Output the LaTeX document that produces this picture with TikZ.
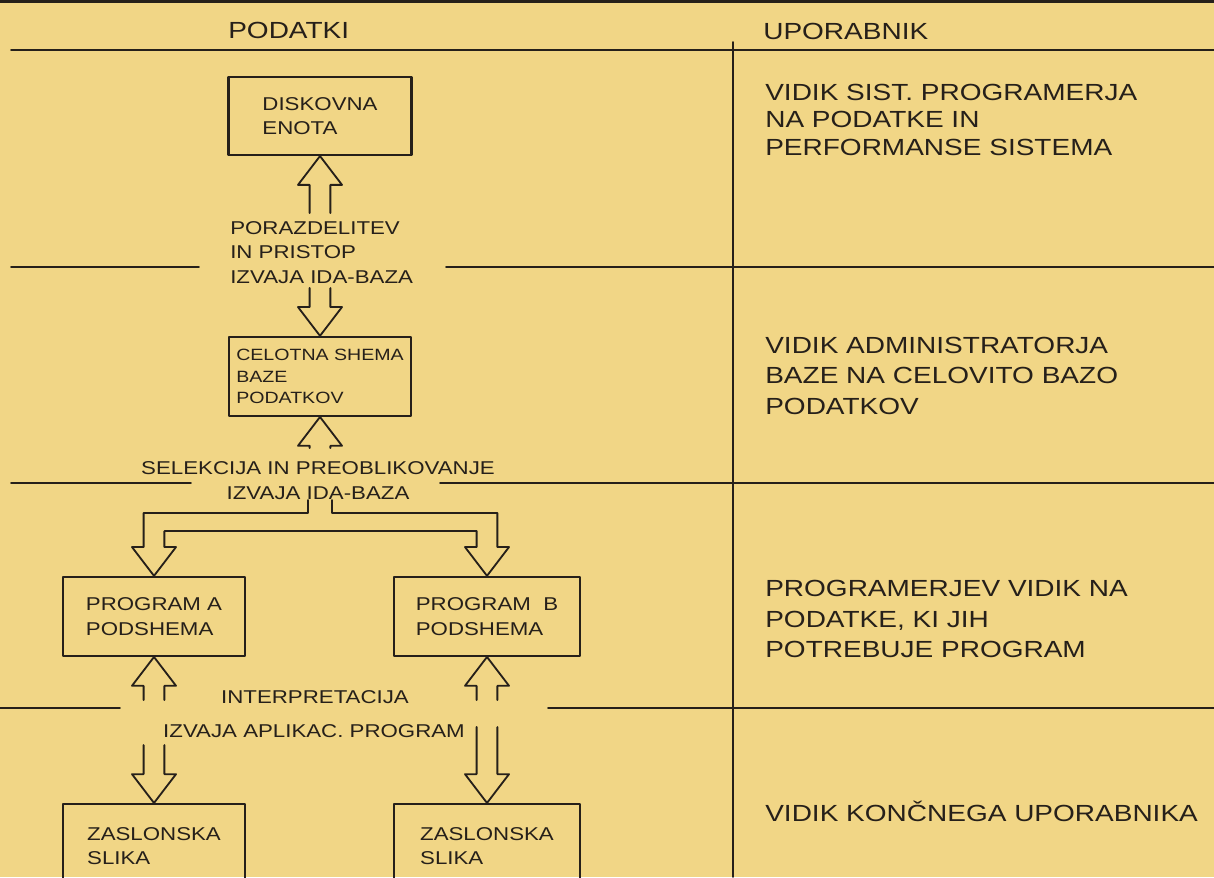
\documentclass[tikz,border=0pt]{standalone}
\usepackage{fontspec}
\setmainfont{Liberation Sans}
\newfontfamily\widesans[FakeStretch=1.2]{Liberation Sans}
\usetikzlibrary{calc}

\definecolor{paper}{RGB}{241,214,134}
\definecolor{ink}{RGB}{38,32,26}

\tikzset{
  sepline/.style={draw=ink,line width=1.2pt},
  arrowline/.style={draw=ink,line width=1.3pt},
  boxnode/.style={draw=ink,line width=1.5pt,align=left,minimum height=1.975cm},
  bigtext/.style={font=\widesans\fontsize{16.6}{21.7}\selectfont,text=ink,align=left,inner sep=0pt},
  midtext/.style={font=\widesans\fontsize{13.2}{17.6}\selectfont,text=ink,align=left,inner sep=0pt},
  smalltext/.style={font=\widesans\fontsize{11.6}{15}\selectfont,text=ink,align=left,inner sep=0pt}
}

% votla puscica: #1 konica, #2 rep
\newcommand{\hollowarrow}[2]{%
  \draw[arrowline] ($(#2)+(-0.26,0)$) -- ($(#1)!0.72cm!(#2)+(-0.26,0)$)
    -- ($(#1)!0.72cm!(#2)+(-0.55,0)$) -- (#1) -- ($(#1)!0.72cm!(#2)+(0.55,0)$)
    -- ($(#1)!0.72cm!(#2)+(0.26,0)$) -- ($(#2)+(0.26,0)$);}

\begin{document}
\begin{tikzpicture}[line cap=round,line join=round]
  \fill[paper] (0,0) rectangle (30.35,-21.925);
  \useasboundingbox (0,0) rectangle (30.35,-21.925);
  \clip (0,0) rectangle (30.35,-21.925);
  % locnice
  \draw[draw=ink,line width=2pt] (0,-0.04) -- (30.35,-0.04);
  \draw[sepline] (0.275,-1.25) -- (30.35,-1.25);
  \draw[sepline] (18.325,-1.05) -- (18.325,-21.925);
  \draw[sepline] (0.275,-6.675) -- (4.975,-6.675);
  \draw[sepline] (11.15,-6.675) -- (30.35,-6.675);
  \draw[sepline] (0.275,-12.075) -- (4.775,-12.075);
  \draw[sepline] (11.0,-12.075) -- (30.35,-12.075);
  \draw[sepline] (0,-17.7) -- (3.0,-17.7);
  \draw[sepline] (13.7,-17.7) -- (30.35,-17.7);
  % naslova
  \node[bigtext,anchor=west] (podatki) at (5.7,-0.75) {PODATKI};
  \node[bigtext,anchor=west] (uporabnik) at (19.075,-0.775) {UPORABNIK};
  % levo: podatki
  \node[boxnode,midtext,minimum width=4.575cm,minimum height=1.95cm] (disk) at (8.0,-2.9) {DISKOVNA\\ENOTA};
  \node[midtext,anchor=west] (porazd) at (5.75,-6.31) {PORAZDELITEV\\IN PRISTOP\\IZVAJA IDA-BAZA};
  \node[boxnode,smalltext,minimum width=4.55cm] (shema) at (8.0,-9.41) {CELOTNA SHEMA\\BAZE\\PODATKOV};
  \node[midtext] (selekcija) at (7.95,-11.7) {SELEKCIJA IN PREOBLIKOVANJE};
  \node[midtext] (izvaja) at (7.95,-12.325) {IZVAJA IDA-BAZA};
  \node[boxnode,midtext,minimum width=4.55cm] (progA) at (3.85,-15.41) {PROGRAM A\\PODSHEMA};
  \node[boxnode,midtext,minimum width=4.65cm] (progB) at (12.175,-15.41) {PROGRAM\ \ B\\PODSHEMA};
  \node[midtext] (interp) at (7.875,-17.425) {INTERPRETACIJA};
  \node[midtext] (aplikac) at (7.85,-18.275) {IZVAJA APLIKAC. PROGRAM};
  \node[boxnode,midtext,minimum width=4.55cm,minimum height=2.1cm] (zasA) at (3.85,-21.15) {ZASLONSKA\\SLIKA};
  \node[boxnode,midtext,minimum width=4.65cm,minimum height=2.1cm] (zasB) at (12.175,-21.15) {ZASLONSKA\\SLIKA};
  % puscice
  \coordinate (t1) at (8.0,-5.325);
  \coordinate (t2) at (8.0,-7.2);
  \coordinate (t3) at (8.0,-11.2);
  \coordinate (fork) at (8.0,-12.5);
  \coordinate (t5) at (3.85,-17.5);
  \coordinate (t6) at (12.175,-17.5);
  \coordinate (t7) at (3.85,-18.625);
  \coordinate (t8) at (12.175,-18.175);
  \hollowarrow{disk.south}{t1}
  \hollowarrow{shema.north}{t2}
  \hollowarrow{shema.south}{t3}
  \hollowarrow{progA.south}{t5}
  \hollowarrow{progB.south}{t6}
  \hollowarrow{zasA.north}{t7}
  \hollowarrow{zasB.north}{t8}
  \draw[arrowline] let \p1=(progA.north), \p2=(progB.north), \p3=(fork) in
    (\x3-0.3cm,\y3) -- (\x3-0.3cm,\y3-0.325cm) -- (\x1-0.26cm,\y3-0.325cm)
    -- (\x1-0.26cm,\y1+0.72cm) -- (\x1-0.55cm,\y1+0.72cm) -- (\x1,\y1)
    -- (\x1+0.55cm,\y1+0.72cm) -- (\x1+0.26cm,\y1+0.72cm) -- (\x1+0.26cm,\y3-0.775cm)
    -- (\x2-0.26cm,\y3-0.775cm) -- (\x2-0.26cm,\y2+0.72cm) -- (\x2-0.55cm,\y2+0.72cm)
    -- (\x2,\y2) -- (\x2+0.55cm,\y2+0.72cm) -- (\x2+0.26cm,\y2+0.72cm)
    -- (\x2+0.26cm,\y3-0.325cm) -- (\x3+0.3cm,\y3-0.325cm) -- (\x3+0.3cm,\y3);
  % desno: uporabnik
  \node[bigtext,anchor=west,font=\widesans\fontsize{16.6}{19.6}\selectfont] (vsist) at (19.125,-2.99) {VIDIK SIST. PROGRAMERJA\\NA PODATKE IN\\PERFORMANSE SISTEMA};
  \node[bigtext,anchor=west] (vadmin) at (19.125,-9.39) {VIDIK ADMINISTRATORJA\\BAZE NA CELOVITO BAZO\\PODATKOV};
  \node[bigtext,anchor=west] (vprog) at (19.125,-15.475) {PROGRAMERJEV VIDIK NA\\PODATKE, KI JIH\\POTREBUJE PROGRAM};
  \node[bigtext,anchor=west] (vkonc) at (19.125,-20.275) {VIDIK KONČNEGA UPORABNIKA};
\end{tikzpicture}
\end{document}
